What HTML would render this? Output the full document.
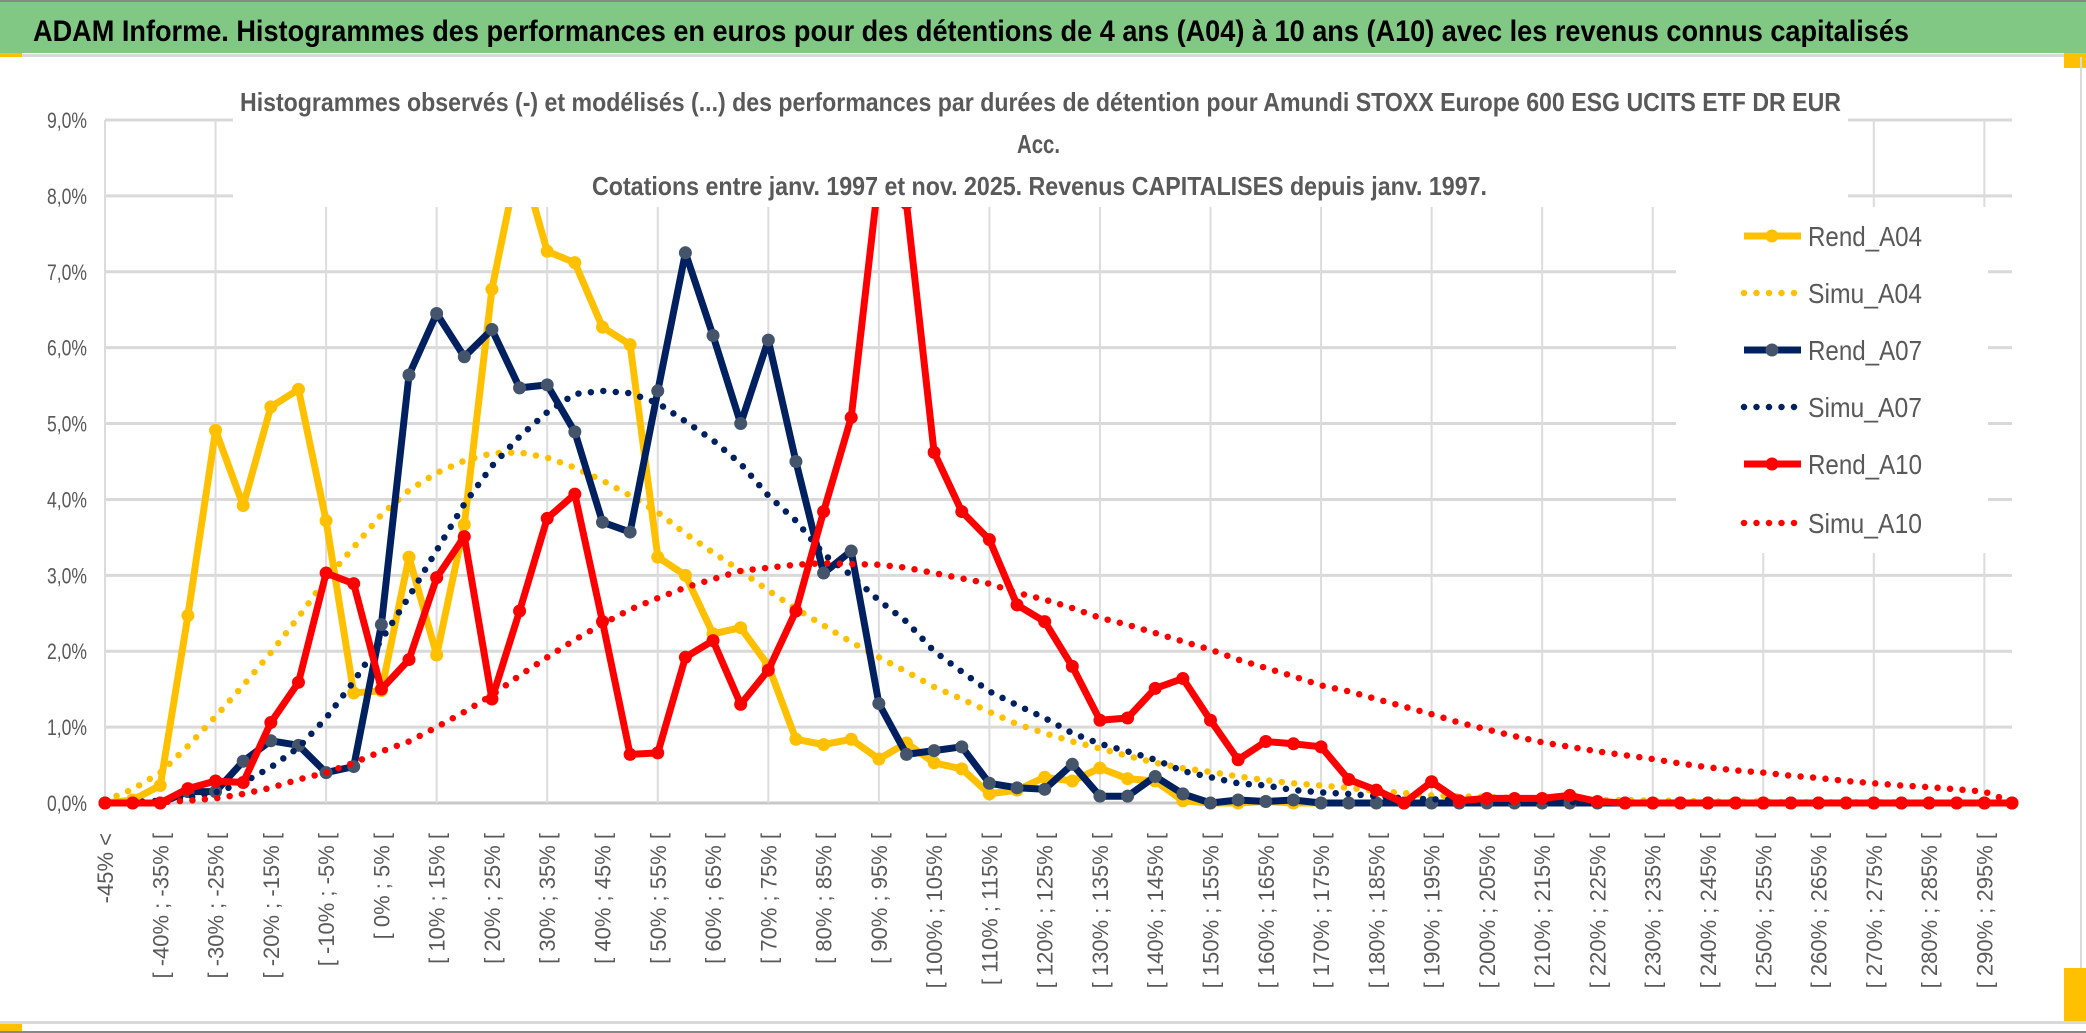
<!DOCTYPE html>
<html><head><meta charset="utf-8"><style>
html,body{margin:0;padding:0;background:#fff;}
svg{display:block;}
text{font-family:"Liberation Sans",sans-serif;}
</style></head>
<body>
<svg id="chart" width="2086" height="1033" viewBox="0 0 2086 1033" xmlns="http://www.w3.org/2000/svg">
<rect x="0" y="0" width="2086" height="1033" fill="#fff"/>
<rect x="0" y="2" width="2086" height="51" fill="#80C883"/>
<rect x="0" y="0" width="2086" height="2" fill="#888"/>
<rect x="0" y="54" width="2086" height="3" fill="#d9d9d9"/>
<rect x="0" y="53" width="22" height="4" fill="#FFC000"/>
<rect x="2064" y="53" width="22" height="15" fill="#FFC000"/>
<rect x="2080" y="57" width="2" height="965" fill="#d9d9d9"/>
<rect x="0" y="1021" width="2086" height="3" fill="#d9d9d9"/>
<rect x="0" y="1031" width="2086" height="2" fill="#888"/>
<rect x="0" y="1024" width="22" height="7" fill="#FFC000"/>
<rect x="2064" y="968" width="22" height="53" fill="#FFC000"/>
<text x="33" y="41" font-size="30" font-weight="bold" fill="#000" textLength="1876" lengthAdjust="spacingAndGlyphs">ADAM Informe. Histogrammes des performances en euros pour des détentions de 4 ans (A04) à 10 ans (A10) avec les revenus connus capitalisés</text>
<g id="grid"></g>
<g id="series"></g>
<rect x="233" y="60" width="1615" height="147" fill="#fff"/>
<text x="240" y="111" font-size="26" font-weight="bold" fill="#595959" textLength="1601" lengthAdjust="spacingAndGlyphs">Histogrammes observés (-) et modélisés (...) des performances par durées de détention pour Amundi STOXX Europe 600 ESG UCITS ETF DR EUR</text>
<text x="1017" y="153" font-size="26" font-weight="bold" fill="#595959" textLength="43" lengthAdjust="spacingAndGlyphs">Acc.</text>
<text x="592" y="195" font-size="26" font-weight="bold" fill="#595959" textLength="895" lengthAdjust="spacingAndGlyphs">Cotations entre janv. 1997 et nov. 2025. Revenus CAPITALISES depuis janv. 1997.</text>
<rect x="1676" y="207" width="312" height="346" fill="#fff"/>
<g id="legend"></g>
<g id="xlabels"></g>
<g id="ylabels"></g>
</svg>
<script>
const categories = [
"-45% <","[ -45% ; -40% [","[ -40% ; -35% [","[ -35% ; -30% [","[ -30% ; -25% [","[ -25% ; -20% [","[ -20% ; -15% [","[ -15% ; -10% [","[ -10% ; -5% [","[ -5% ; 0% [",
"[ 0% ; 5% [","[ 5% ; 10% [","[ 10% ; 15% [","[ 15% ; 20% [","[ 20% ; 25% [","[ 25% ; 30% [","[ 30% ; 35% [","[ 35% ; 40% [","[ 40% ; 45% [","[ 45% ; 50% [",
"[ 50% ; 55% [","[ 55% ; 60% [","[ 60% ; 65% [","[ 65% ; 70% [","[ 70% ; 75% [","[ 75% ; 80% [","[ 80% ; 85% [","[ 85% ; 90% [","[ 90% ; 95% [","[ 95% ; 100% [",
"[ 100% ; 105% [","[ 105% ; 110% [","[ 110% ; 115% [","[ 115% ; 120% [","[ 120% ; 125% [","[ 125% ; 130% [","[ 130% ; 135% [","[ 135% ; 140% [","[ 140% ; 145% [","[ 145% ; 150% [",
"[ 150% ; 155% [","[ 155% ; 160% [","[ 160% ; 165% [","[ 165% ; 170% [","[ 170% ; 175% [","[ 175% ; 180% [","[ 180% ; 185% [","[ 185% ; 190% [","[ 190% ; 195% [","[ 195% ; 200% [",
"[ 200% ; 205% [","[ 205% ; 210% [","[ 210% ; 215% [","[ 215% ; 220% [","[ 220% ; 225% [","[ 225% ; 230% [","[ 230% ; 235% [","[ 235% ; 240% [","[ 240% ; 245% [","[ 245% ; 250% [",
"[ 250% ; 255% [","[ 255% ; 260% [","[ 260% ; 265% [","[ 265% ; 270% [","[ 270% ; 275% [","[ 275% ; 280% [","[ 280% ; 285% [","[ 285% ; 290% [","[ 290% ; 295% [","[ 295% ; 300% ["];
const yTicks = [0,1,2,3,4,5,6,7,8,9];
const yTickLabels = ["0,0%","1,0%","2,0%","3,0%","4,0%","5,0%","6,0%","7,0%","8,0%","9,0%"];
const rendA04 = [0,0.04,0.23,2.47,4.91,3.92,5.22,5.45,3.72,1.45,
1.48,3.24,1.95,3.67,6.77,8.55,7.27,7.12,6.27,6.04,
3.24,3.0,2.23,2.31,1.81,0.84,0.77,0.84,0.58,0.79,
0.53,0.45,0.12,0.17,0.34,0.29,0.46,0.32,0.29,0.03,
0,0,0.02,0,0,0,0,0,0,0,
0,0,0,0,0,0,0,0,0,0,
0,0,0,0,0,0,0,0,0,0];
const simuA04 = [0.03,0.18,0.4,0.75,1.14,1.55,1.98,2.45,2.95,3.37,
3.8,4.12,4.35,4.51,4.61,4.62,4.55,4.42,4.25,4.05,
3.83,3.55,3.3,3.06,2.8,2.56,2.34,2.12,1.92,1.73,
1.53,1.37,1.2,1.04,0.92,0.81,0.72,0.62,0.53,0.46,
0.41,0.35,0.3,0.26,0.23,0.2,0.16,0.13,0.1,0.09,
0.08,0.07,0.06,0.05,0.04,0.04,0.03,0.03,0.02,0.02,
0.02,0.01,0.01,0.01,0.01,0.01,0,0,0,0];
const rendA07 = [0,0,0,0.15,0.15,0.55,0.82,0.76,0.4,0.48,
2.35,5.64,6.45,5.88,6.24,5.47,5.51,4.89,3.7,3.57,
5.43,7.25,6.16,5.0,6.1,4.5,3.03,3.32,1.31,0.64,
0.69,0.74,0.26,0.2,0.18,0.51,0.09,0.09,0.35,0.12,
0,0.04,0.02,0.04,0,0,0,0,0,0,
0,0,0,0,0,0,0,0,0,0,
0,0,0,0,0,0,0,0,0,0];
const simuA07 = [0,0.01,0.03,0.07,0.14,0.27,0.47,0.73,1.12,1.6,
2.15,2.72,3.33,3.94,4.44,4.83,5.15,5.39,5.43,5.4,
5.27,5.03,4.78,4.47,4.05,3.72,3.28,3.0,2.67,2.39,
2.0,1.73,1.47,1.29,1.12,0.92,0.78,0.68,0.57,0.42,
0.34,0.26,0.23,0.17,0.14,0.12,0.09,0.06,0.05,0.04,
0.03,0.02,0.02,0.01,0.01,0,0,0,0,0,
0,0,0,0,0,0,0,0,0,0];
const rendA10 = [0,0,0,0.19,0.29,0.27,1.06,1.59,3.03,2.89,
1.5,1.89,2.97,3.51,1.37,2.53,3.75,4.07,2.39,0.64,
0.66,1.92,2.14,1.3,1.75,2.53,3.84,5.08,8.27,7.9,
4.62,3.84,3.47,2.61,2.39,1.8,1.09,1.12,1.51,1.64,
1.09,0.57,0.81,0.78,0.74,0.31,0.17,0,0.28,0.03,
0.06,0.06,0.06,0.1,0.02,0,0,0,0,0,
0,0,0,0,0,0,0,0,0,0];
const simuA10 = [0,0,0.01,0.03,0.06,0.12,0.2,0.31,0.4,0.53,
0.68,0.81,1.0,1.2,1.42,1.68,1.92,2.15,2.36,2.55,
2.7,2.84,2.95,3.06,3.1,3.14,3.16,3.15,3.14,3.1,
3.03,2.96,2.89,2.77,2.68,2.57,2.44,2.35,2.24,2.13,
2.02,1.89,1.78,1.67,1.55,1.47,1.37,1.27,1.17,1.06,
0.97,0.88,0.8,0.74,0.68,0.63,0.58,0.52,0.47,0.43,
0.4,0.36,0.33,0.29,0.26,0.23,0.21,0.18,0.15,0.01];
const seriesNames = ["Rend_A04","Simu_A04","Rend_A07","Simu_A07","Rend_A10","Simu_A10"];

const NS = "http://www.w3.org/2000/svg";
const X0 = 105, X1 = 2012, Y0 = 803, Y9 = 120;
function xScale(i){ return X0 + i * (X1 - X0) / (categories.length - 1); }
function yScale(v){ return Y0 - v * (Y0 - Y9) / 9; }
function mk(tag){ return document.createElementNS(NS, tag); }

const grid = document.getElementById('grid');
yTicks.forEach(function(t){
  const l = mk('line');
  
  
  l.setAttribute('x1', X0); l.setAttribute('x2', X1);
  l.setAttribute('y1', yScale(t)); l.setAttribute('y2', yScale(t));
  l.setAttribute('stroke', t === 0 ? '#c8c8c8' : '#d9d9d9');
  l.setAttribute('stroke-width', '3');
  grid.appendChild(l);
});
for (let i = 0; i < categories.length; i += 4) {
  const l = mk('line');
  
  
  l.setAttribute('x1', xScale(i)); l.setAttribute('x2', xScale(i));
  l.setAttribute('y1', Y9); l.setAttribute('y2', Y0);
  l.setAttribute('stroke', '#dcdcdc');
  l.setAttribute('stroke-width', '2');
  grid.appendChild(l);
}

const ser = document.getElementById('series');
function drawSeries(vals, color, dotted, markerColor, name){
  const g = mk('g');
  
  
  const p = mk('polyline');
  
  
  p.setAttribute('points', vals.map(function(v,i){ return xScale(i).toFixed(1) + ',' + yScale(v).toFixed(1); }).join(' '));
  p.setAttribute('fill', 'none');
  p.setAttribute('stroke', color);
  p.setAttribute('stroke-linejoin', 'round');
  if (dotted) {
    p.setAttribute('stroke-width', '6.5');
    p.setAttribute('stroke-dasharray', '0 12.5');
    p.setAttribute('stroke-linecap', 'round');
  } else {
    p.setAttribute('stroke-width', '7');
  }
  g.appendChild(p);
  if (!dotted) {
    vals.forEach(function(v,i){
      const c = mk('circle');
      
      
      c.setAttribute('cx', xScale(i)); c.setAttribute('cy', yScale(v));
      c.setAttribute('r', '6.5');
      c.setAttribute('fill', markerColor);
      g.appendChild(c);
    });
  }
  ser.appendChild(g);
}
drawSeries(rendA04, '#FFC000', false, '#FFC000', 'rend-a04');
drawSeries(simuA04, '#FFC000', true, null, 'simu-a04');
drawSeries(rendA07, '#002060', false, '#44546A', 'rend-a07');
drawSeries(simuA07, '#002060', true, null, 'simu-a07');
drawSeries(rendA10, '#FF0000', false, '#FF0000', 'rend-a10');
drawSeries(simuA10, '#FF0000', true, null, 'simu-a10');

const leg = document.getElementById('legend');
const legColors = ['#FFC000','#FFC000','#002060','#002060','#FF0000','#FF0000'];
const legMarker = ['#FFC000',null,'#44546A',null,'#FF0000',null];
const legY = [236,293,350,407,464,523];
seriesNames.forEach(function(n,k){
  const g = mk('g');
  
  
  const l = mk('line');
  l.setAttribute('x1', 1744); l.setAttribute('x2', 1801);
  l.setAttribute('y1', legY[k]); l.setAttribute('y2', legY[k]);
  l.setAttribute('stroke', legColors[k]);
  if (legMarker[k]) { l.setAttribute('stroke-width', '7'); }
  else { l.setAttribute('stroke-width', '6.5'); l.setAttribute('stroke-dasharray', '0 12.5'); l.setAttribute('stroke-linecap', 'round'); }
  g.appendChild(l);
  if (legMarker[k]) {
    const c = mk('circle');
    c.setAttribute('cx', 1772); c.setAttribute('cy', legY[k]); c.setAttribute('r', '6.5');
    c.setAttribute('fill', legMarker[k]);
    g.appendChild(c);
  }
  const t = mk('text');
  
  
  t.setAttribute('x', 1808); t.setAttribute('y', legY[k] + 10);
  t.setAttribute('font-size', '28');
  t.setAttribute('fill', '#595959');
  t.setAttribute('textLength', '114');
  t.setAttribute('lengthAdjust', 'spacingAndGlyphs');
  t.textContent = n;
  g.appendChild(t);
  leg.appendChild(g);
});

const xl = document.getElementById('xlabels');
categories.forEach(function(c,i){
  if (i % 2 !== 0) return;
  const t = mk('text');
  
  
  const x = xScale(i) + 8, y = 833;
  t.setAttribute('transform', 'translate(' + x.toFixed(1) + ',' + y + ') rotate(-90)');
  t.setAttribute('text-anchor', 'end');
  t.setAttribute('font-size', '22');
  t.setAttribute('fill', '#595959');
  t.textContent = c;
  xl.appendChild(t);
});

const yl = document.getElementById('ylabels');
yTicks.forEach(function(v,k){
  const t = mk('text');
  
  
  t.setAttribute('x', 47); t.setAttribute('y', yScale(v) + 8);
  t.setAttribute('font-size', '22');
  t.setAttribute('fill', '#595959');
  t.setAttribute('textLength', '40');
  t.setAttribute('lengthAdjust', 'spacingAndGlyphs');
  t.textContent = yTickLabels[k];
  yl.appendChild(t);
});
</script>
</body></html>
